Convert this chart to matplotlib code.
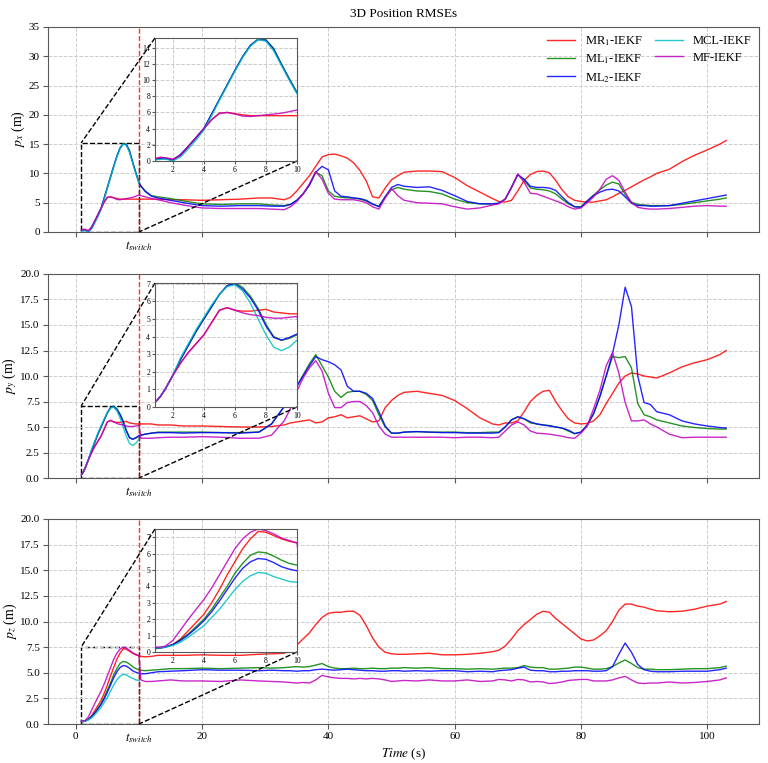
import matplotlib
matplotlib.use('Agg')
import matplotlib.pyplot as plt
import numpy as np
from mpl_toolkits.axes_grid1.inset_locator import mark_inset

plt.rcParams['font.family'] = ['Liberation Serif', 'DejaVu Serif']
plt.rcParams['mathtext.fontset'] = 'stix'

# time grids (s)
t_early = [0.9, 1.2, 1.5, 2.0, 2.5, 3.0, 3.5, 4.0, 4.5, 5.0,
           5.5, 6.0, 6.5, 7.0, 7.5, 8.0, 8.5, 9.0, 9.5, 10.0]
t_late = [10.3, 11, 12, 13, 15, 17, 20, 23, 26, 29,
          31, 33, 34, 35, 36, 37, 38, 39, 40, 41,
          42, 43, 44, 45, 46, 47, 48, 49, 50, 51,
          52, 54, 56, 58, 60, 62, 64, 66, 67, 68,
          69, 70, 71, 72, 73, 74, 75, 76, 77, 78,
          79, 80, 81, 82, 83, 84, 85, 86, 87, 88,
          89, 90, 91, 92, 94, 96, 98, 100, 102, 103]
t_switch = 10

labels = ['MR$_1$-IEKF', 'ML$_1$-IEKF', 'ML$_2$-IEKF', 'MCL-IEKF', 'MF-IEKF']
colors = ['r', 'g', 'b', 'c', 'm']

# ---- p_x ----
px_mr1_early = [0.3, 0.45, 0.4, 0.2, 0.7, 1.8, 2.9, 4.0, 5.1, 5.9, 6.0, 5.85, 5.7, 5.6, 5.6, 5.6, 5.6, 5.6, 5.6, 5.6]
px_ml1_early = [0.2, 0.3, 0.3, 0.1, 0.8, 1.8, 2.9, 4.0, 5.8, 7.6, 9.4, 11.2, 12.9, 14.3, 15.1, 15.0, 13.9, 12.0, 10.2, 8.5]
px_ml2_early = [0.2, 0.3, 0.3, 0.1, 0.8, 1.8, 2.9, 4.0, 5.8, 7.6, 9.4, 11.2, 12.9, 14.3, 15.0, 14.9, 13.8, 11.9, 10.1, 8.4]
px_mcl_early = [0.15, 0.2, 0.25, 0.0, 0.5, 1.5, 2.6, 3.8, 5.6, 7.5, 9.3, 11.1, 12.8, 14.2, 15.0, 14.8, 13.6, 11.8, 10.0, 8.3]
px_mf_early = [0.3, 0.45, 0.4, 0.2, 0.7, 1.8, 2.9, 4.0, 5.1, 5.9, 6.0, 5.8, 5.55, 5.5, 5.6, 5.7, 5.8, 5.9, 6.1, 6.3]

px_mr1_late = [5.6, 5.6, 5.6, 5.6, 5.5, 5.5, 5.4, 5.5, 5.6, 5.8,
               5.8, 5.5, 5.9, 7.0, 8.3, 9.6, 11.2, 12.8, 13.2, 13.3,
               13.0, 12.6, 11.8, 10.5, 8.7, 6.0, 5.8, 7.5, 8.9, 9.6,
               10.2, 10.4, 10.4, 10.3, 9.3, 7.9, 6.8, 5.7, 5.2, 5.1,
               5.4, 7.0, 8.8, 9.8, 10.3, 10.4, 10.1, 8.8, 7.2, 6.0,
               5.4, 5.2, 5.1, 5.1, 5.3, 5.5, 6.0, 6.6, 7.1, 7.7,
               8.3, 8.9, 9.4, 10.0, 10.7, 12.0, 13.1, 14.0, 15.0, 15.6]
px_ml1_late = [7.9, 7.0, 6.2, 6.0, 5.7, 5.3, 4.8, 4.7, 4.8, 4.8,
               4.6, 4.5, 4.7, 5.4, 6.5, 8.0, 10.2, 9.6, 7.0, 6.1,
               5.9, 5.8, 5.8, 5.6, 5.3, 4.7, 4.4, 6.0, 7.2, 7.6,
               7.3, 7.0, 6.9, 6.5, 5.6, 5.0, 4.8, 4.8, 4.9, 5.6,
               7.6, 9.8, 8.8, 7.5, 7.3, 7.2, 7.0, 6.5, 5.6, 4.8,
               4.3, 4.3, 5.3, 6.3, 7.2, 8.0, 8.5, 8.2, 6.4, 5.1,
               4.7, 4.6, 4.5, 4.5, 4.5, 4.7, 5.0, 5.3, 5.6, 5.8]
px_ml2_late = [7.8, 6.9, 6.1, 5.8, 5.4, 5.0, 4.5, 4.4, 4.5, 4.5,
               4.4, 4.4, 4.7, 5.4, 6.5, 8.0, 10.2, 11.2, 10.6, 7.0,
               6.1, 6.0, 5.8, 5.7, 5.4, 4.8, 4.3, 6.0, 7.6, 8.1,
               7.8, 7.6, 7.7, 7.1, 6.2, 5.2, 4.8, 4.8, 4.9, 5.6,
               7.6, 9.8, 9.0, 7.8, 7.6, 7.6, 7.5, 7.1, 6.0, 5.0,
               4.3, 4.2, 5.3, 6.2, 6.8, 7.2, 7.3, 7.0, 6.0, 4.9,
               4.5, 4.5, 4.4, 4.4, 4.5, 4.9, 5.3, 5.7, 6.1, 6.3]
px_mf_late = [6.2, 6.0, 5.7, 5.5, 5.0, 4.6, 4.1, 4.0, 4.0, 4.0,
              3.9, 3.8, 4.3, 5.2, 6.5, 8.2, 10.3, 9.0, 6.6, 5.6,
              5.5, 5.5, 5.5, 5.3, 5.0, 4.3, 3.9, 5.8, 7.4, 6.2,
              5.4, 5.0, 4.9, 4.8, 4.3, 3.9, 4.1, 4.6, 4.8, 5.6,
              7.6, 9.9, 8.5, 6.6, 6.5, 6.1, 5.7, 5.3, 4.9, 4.3,
              3.9, 4.1, 5.0, 6.0, 7.3, 9.0, 9.6, 8.8, 6.8, 5.0,
              4.2, 4.0, 3.9, 3.9, 4.0, 4.2, 4.4, 4.5, 4.4, 4.4]

# ---- p_y ----
py_mr1_early = [0.3, 0.6, 1.0, 1.8, 2.5, 3.1, 3.6, 4.1, 4.8, 5.5, 5.65, 5.5, 5.45, 5.45, 5.5, 5.55, 5.4, 5.35, 5.3, 5.3]
py_ml1_early = [0.3, 0.6, 1.0, 1.8, 2.7, 3.5, 4.3, 5.0, 5.7, 6.4, 6.9, 7.05, 6.8, 6.3, 5.6, 4.7, 4.0, 3.8, 3.9, 4.1]
py_ml2_early = [0.3, 0.6, 1.0, 1.8, 2.7, 3.5, 4.3, 5.0, 5.7, 6.4, 6.9, 7.0, 6.7, 6.2, 5.5, 4.6, 3.95, 3.8, 3.95, 4.15]
py_mcl_early = [0.3, 0.6, 1.0, 1.8, 2.8, 3.6, 4.4, 5.1, 5.8, 6.4, 6.85, 6.95, 6.6, 5.9, 5.0, 4.1, 3.4, 3.2, 3.4, 3.8]
py_mf_early = [0.3, 0.6, 1.0, 1.8, 2.5, 3.1, 3.6, 4.1, 4.8, 5.5, 5.65, 5.5, 5.35, 5.25, 5.2, 5.1, 5.05, 5.05, 5.1, 5.15]

py_mr1_late = [5.3, 5.3, 5.3, 5.2, 5.2, 5.1, 5.1, 5.05, 5.0, 5.0,
               5.05, 5.2, 5.4, 5.5, 5.6, 5.7, 5.4, 5.5, 5.9, 6.0,
               6.2, 5.9, 6.0, 6.1, 5.8, 5.5, 5.6, 6.9, 7.6, 8.1,
               8.4, 8.5, 8.3, 8.1, 7.6, 6.8, 5.9, 5.3, 5.2, 5.4,
               5.4, 5.6, 6.5, 7.5, 8.1, 8.5, 8.6, 7.5, 6.6, 5.8,
               5.4, 5.3, 5.35, 5.6, 6.2, 7.3, 8.3, 9.3, 10.0, 10.3,
               10.2, 10.0, 9.9, 9.8, 10.3, 10.9, 11.3, 11.6, 12.1, 12.5]
py_ml1_late = [4.2, 4.3, 4.4, 4.5, 4.5, 4.5, 4.5, 4.45, 4.45, 4.5,
               5.3, 7.0, 8.0, 9.0, 10.1, 11.2, 12.1, 11.0, 9.9, 8.5,
               7.9, 8.4, 8.5, 8.5, 8.2, 7.6, 6.2, 5.0, 4.4, 4.4,
               4.5, 4.55, 4.5, 4.5, 4.5, 4.45, 4.45, 4.5, 4.5, 5.0,
               5.7, 6.0, 5.8, 5.4, 5.3, 5.2, 5.15, 5.0, 4.9, 4.6,
               4.35, 4.5, 5.2, 6.3, 8.0, 10.0, 11.9, 11.8, 11.9, 10.8,
               7.3, 6.2, 6.0, 5.7, 5.4, 5.1, 4.95, 4.85, 4.8, 4.8]
py_ml2_late = [4.2, 4.3, 4.4, 4.45, 4.45, 4.4, 4.45, 4.45, 4.4, 4.5,
               5.3, 7.0, 8.0, 9.0, 10.0, 11.0, 11.9, 11.6, 11.4, 11.1,
               10.6, 9.0, 8.5, 8.5, 8.3, 7.8, 6.5, 5.1, 4.4, 4.4,
               4.5, 4.55, 4.5, 4.45, 4.45, 4.4, 4.4, 4.4, 4.45, 5.0,
               5.7, 6.0, 5.8, 5.5, 5.3, 5.2, 5.1, 5.0, 4.9, 4.7,
               4.35, 4.5, 5.2, 6.3, 8.0, 10.0, 12.2, 15.0, 18.7, 16.8,
               10.0, 7.4, 7.2, 6.5, 6.2, 5.6, 5.3, 5.1, 4.95, 4.9]
py_mf_late = [3.9, 3.9, 3.9, 3.95, 4.0, 4.0, 4.05, 4.0, 3.9, 3.9,
              4.2, 5.6, 6.8, 8.5, 9.8, 10.8, 11.5, 10.5, 8.3, 6.9,
              6.9, 7.4, 7.5, 7.5, 7.1, 6.4, 5.1, 4.3, 4.0, 4.0,
              4.0, 4.0, 4.0, 4.0, 3.95, 4.0, 4.0, 3.95, 4.0, 4.6,
              5.2, 5.5, 5.2, 4.6, 4.4, 4.35, 4.3, 4.2, 4.1, 3.95,
              3.9, 4.4, 5.1, 6.8, 8.6, 11.0, 12.3, 10.3, 7.4, 5.6,
              5.6, 5.7, 5.3, 5.0, 4.3, 3.95, 4.0, 4.0, 4.0, 4.0]

# ---- p_z ----
pz_mr1_early = [0.2, 0.25, 0.3, 0.45, 0.8, 1.3, 1.8, 2.3, 3.0, 3.8, 4.7, 5.5, 6.3, 6.9, 7.35, 7.3, 7.1, 6.9, 6.75, 6.65]
pz_ml1_early = [0.25, 0.25, 0.3, 0.45, 0.75, 1.1, 1.55, 2.0, 2.6, 3.3, 4.0, 4.8, 5.4, 5.9, 6.1, 6.05, 5.85, 5.6, 5.4, 5.3]
pz_ml2_early = [0.25, 0.25, 0.3, 0.45, 0.7, 1.05, 1.45, 1.9, 2.45, 3.1, 3.8, 4.5, 5.1, 5.5, 5.7, 5.65, 5.45, 5.2, 5.05, 4.95]
pz_mcl_early = [0.25, 0.25, 0.28, 0.4, 0.6, 0.9, 1.25, 1.6, 2.1, 2.6, 3.2, 3.8, 4.3, 4.65, 4.85, 4.8, 4.6, 4.45, 4.3, 4.25]
pz_mf_early = [0.3, 0.3, 0.35, 0.7, 1.35, 2.0, 2.6, 3.2, 3.9, 4.7, 5.5, 6.3, 6.9, 7.3, 7.5, 7.4, 7.2, 6.95, 6.8, 6.65]

pz_mr1_late = [6.6, 6.55, 6.6, 6.7, 6.7, 6.7, 6.75, 6.7, 6.7, 6.8,
               6.85, 6.9, 7.2, 7.7, 8.3, 8.9, 9.7, 10.4, 10.8, 10.9,
               10.9, 11.0, 11.0, 10.6, 9.6, 8.4, 7.5, 7.0, 6.85, 6.8,
               6.8, 6.85, 6.9, 6.75, 6.75, 6.8, 6.9, 7.05, 7.2, 7.6,
               8.3, 9.1, 9.7, 10.2, 10.7, 11.0, 10.9, 10.3, 9.8, 9.3,
               8.8, 8.3, 8.1, 8.2, 8.6, 9.1, 10.0, 11.1, 11.7, 11.7,
               11.5, 11.4, 11.2, 11.05, 10.95, 11.0, 11.2, 11.5, 11.7, 11.95]
pz_ml1_late = [5.25, 5.2, 5.25, 5.3, 5.4, 5.4, 5.45, 5.4, 5.45, 5.5,
               5.45, 5.5, 5.55, 5.6, 5.55, 5.6, 5.75, 5.9, 5.6, 5.45,
               5.4, 5.4, 5.45, 5.4, 5.4, 5.45, 5.4, 5.4, 5.45, 5.45,
               5.5, 5.45, 5.5, 5.4, 5.4, 5.35, 5.4, 5.35, 5.4, 5.45,
               5.45, 5.5, 5.7, 5.55, 5.5, 5.5, 5.35, 5.35, 5.4, 5.45,
               5.55, 5.55, 5.45, 5.35, 5.35, 5.4, 5.6, 5.95, 6.25, 5.9,
               5.5, 5.35, 5.35, 5.3, 5.3, 5.35, 5.4, 5.4, 5.5, 5.65]
pz_ml2_late = [4.9, 4.9, 5.0, 5.1, 5.15, 5.2, 5.3, 5.25, 5.25, 5.2,
               5.25, 5.2, 5.2, 5.15, 5.2, 5.2, 5.3, 5.35, 5.3, 5.25,
               5.3, 5.35, 5.3, 5.25, 5.2, 5.2, 5.15, 5.15, 5.2, 5.2,
               5.15, 5.2, 5.15, 5.2, 5.2, 5.1, 5.15, 5.1, 5.2, 5.25,
               5.3, 5.45, 5.55, 5.25, 5.2, 5.2, 5.1, 5.1, 5.15, 5.15,
               5.2, 5.2, 5.2, 5.15, 5.15, 5.2, 5.6, 6.8, 7.9, 7.0,
               5.8, 5.3, 5.15, 5.1, 5.1, 5.15, 5.15, 5.15, 5.3, 5.45]
pz_mf_late = [4.3, 4.15, 4.15, 4.2, 4.3, 4.2, 4.2, 4.15, 4.3, 4.2,
              4.15, 4.1, 4.05, 4.0, 4.05, 4.0, 4.3, 4.75, 4.6, 4.5,
              4.45, 4.45, 4.4, 4.45, 4.4, 4.45, 4.4, 4.3, 4.15, 4.2,
              4.25, 4.2, 4.3, 4.2, 4.2, 4.3, 4.15, 4.2, 4.35, 4.3,
              4.2, 4.35, 4.3, 4.1, 4.15, 4.1, 3.95, 4.0, 4.1, 4.25,
              4.3, 4.35, 4.35, 4.2, 4.2, 4.2, 4.3, 4.5, 4.65, 4.3,
              4.0, 3.95, 4.0, 4.0, 4.1, 4.0, 4.05, 4.15, 4.3, 4.5]

panels = [
    dict(early=[px_mr1_early, px_ml1_early, px_ml2_early, px_mcl_early, px_mf_early],
         late=[px_mr1_late, px_ml1_late, px_ml2_late, None, px_mf_late],
         ylabel='$p_x$ (m)', ylim=(0, 35), yticks=np.arange(0, 36, 5),
         ins_ylim=(0, 15.2), ins_yticks=np.arange(0, 15, 2)),
    dict(early=[py_mr1_early, py_ml1_early, py_ml2_early, py_mcl_early, py_mf_early],
         late=[py_mr1_late, py_ml1_late, py_ml2_late, None, py_mf_late],
         ylabel='$p_y$ (m)', ylim=(0, 20), yticks=np.arange(0, 20.1, 2.5),
         ins_ylim=(0, 7.05), ins_yticks=np.arange(0, 8, 1)),
    dict(early=[pz_mr1_early, pz_ml1_early, pz_ml2_early, pz_mcl_early, pz_mf_early],
         late=[pz_mr1_late, pz_ml1_late, pz_ml2_late, None, pz_mf_late],
         ylabel='$p_z$ (m)', ylim=(0, 20), yticks=np.arange(0, 20.1, 2.5),
         ins_ylim=(0, 7.5), ins_yticks=np.arange(0, 8, 1)),
]

fig = plt.figure(figsize=(7.68, 7.63), dpi=100)
main_pos = [[0.0625, 0.696, 0.9258, 0.2687],
            [0.0625, 0.3735, 0.9258, 0.2674],
            [0.0625, 0.0511, 0.9258, 0.2687]]
ins_pos = [[0.2018, 0.789, 0.1849, 0.1612],
           [0.2018, 0.4666, 0.1849, 0.1625],
           [0.2018, 0.1455, 0.1849, 0.1612]]

spine_col = '0.35'
grid_kw = dict(color='#cccccc', linestyle='--', linewidth=0.7)

for i, p in enumerate(panels):
    ax = fig.add_axes(main_pos[i])
    axins = fig.add_axes(ins_pos[i])
    for k in range(5):
        if p['late'][k] is None:
            t = t_early
            v = p['early'][k]
        else:
            t = t_early + t_late
            v = p['early'][k] + p['late'][k]
        ax.plot(t, v, color=colors[k], lw=1.0, alpha=0.85, label=labels[k])
        axins.plot(t, v, color=colors[k], lw=1.0, alpha=0.85)

    ax.axvline(t_switch, color='r', ls='--', lw=1.0, alpha=0.8)
    ax.set_xlim(-4.4, 108.2)
    ax.set_ylim(*p['ylim'])
    ax.set_yticks(p['yticks'])
    ax.set_xticks([0, 20, 40, 60, 80, 100])
    ax.set_xticks([t_switch], minor=True)
    ax.set_xticklabels(['$t_{switch}$'], minor=True)
    ax.tick_params(axis='x', which='minor', length=0, labelsize=9, pad=5)
    ax.tick_params(axis='both', which='major', labelsize=8, color=spine_col,
                   length=3.5, pad=2.5)
    if i < 2:
        ax.tick_params(axis='x', which='major', labelbottom=False)
    ax.set_ylabel(p['ylabel'], fontsize=10, labelpad=1)
    ax.grid(True, **grid_kw)
    for s in ax.spines.values():
        s.set_color(spine_col)

    axins.set_xlim(0.85, 10)
    axins.set_ylim(*p['ins_ylim'])
    axins.set_xticks([2, 4, 6, 8, 10])
    axins.set_yticks(p['ins_yticks'])
    axins.tick_params(labelsize=5.5, length=2, pad=1.5, color=spine_col)
    axins.grid(True, **grid_kw)
    for s in axins.spines.values():
        s.set_color(spine_col)
    mark_inset(ax, axins, loc1=2, loc2=4, fc='none', ec='k', ls='--', lw=1.0)

    if i == 0:
        ax.set_title('3D Position RMSEs', fontsize=9.5, pad=7)
        ax.legend(loc='upper right', ncol=2, frameon=False, fontsize=9,
                  columnspacing=1.0, handlelength=2.2, borderaxespad=0.2,
                  labelspacing=0.35)
    if i == 2:
        ax.set_xlabel('$Time$ (s)', fontsize=9.5, labelpad=1)

fig.savefig('out.png', dpi=100)
